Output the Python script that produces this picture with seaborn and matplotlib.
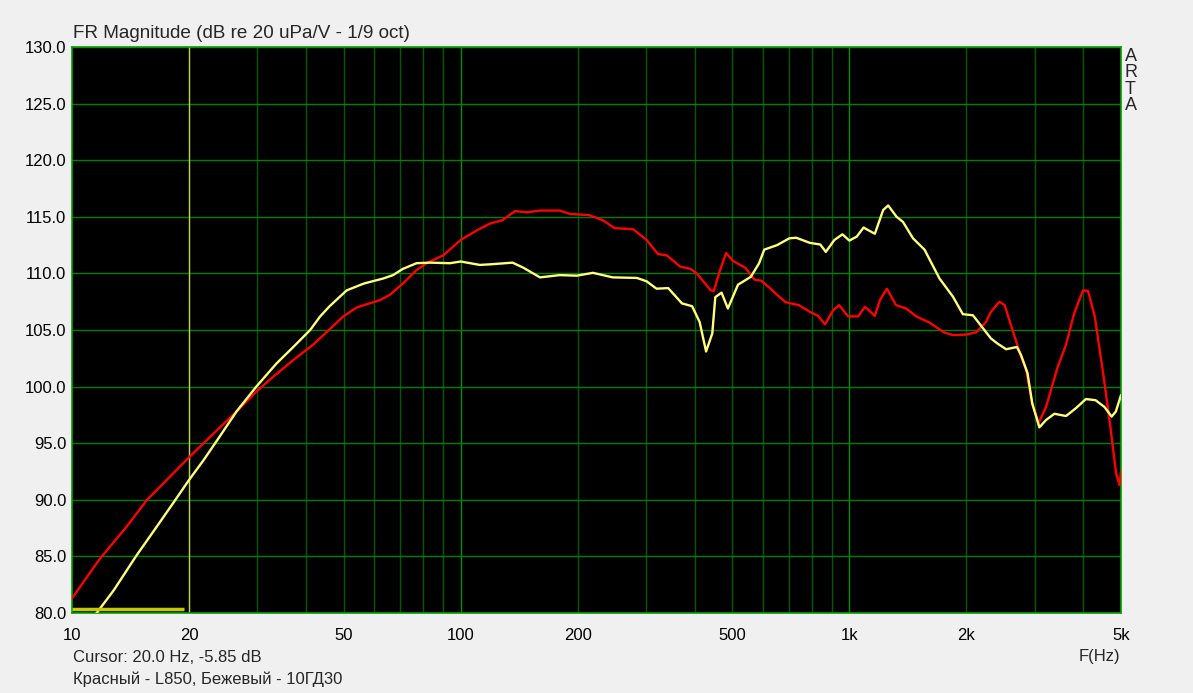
import numpy as np
import pandas as pd
import matplotlib
matplotlib.use("Agg")
import matplotlib.pyplot as plt
import seaborn as sns

# Red curve - L850
red_freq = [10, 11.8, 13.8, 15.6, 20, 21.8, 26.5, 29.8, 33, 37.1, 41.7, 45.3, 49.9, 54.1,
            62.1, 65.7, 71, 77, 81.7, 90.2, 100, 110, 119, 128, 138, 148, 160, 180, 191,
            214, 232, 249, 278, 301, 322, 339, 367, 390, 405, 440, 448, 465, 482, 502,
            540, 570, 594, 620, 652, 686, 741, 792, 831, 866, 909, 941, 993, 1053, 1097,
            1163, 1199, 1249, 1318, 1400, 1487, 1609, 1750, 1847, 2003, 2120, 2245, 2314,
            2432, 2510, 2620, 2733, 2850, 2956, 3070, 3207, 3437, 3610, 3790, 3993, 4113,
            4280, 4510, 4705, 4855, 4955, 5000]
red_db = [81.3, 84.8, 87.6, 90.0, 93.75, 95.0, 97.8, 99.55, 100.9, 102.35, 103.7, 104.85,
          106.2, 107.0, 107.65, 108.1, 109.1, 110.3, 110.9, 111.6, 112.95, 113.8, 114.4,
          114.7, 115.5, 115.4, 115.55, 115.55, 115.25, 115.15, 114.7, 114.0, 113.9, 112.95,
          111.7, 111.6, 110.6, 110.4, 110.0, 108.5, 108.45, 110.3, 111.8, 111.1, 110.5,
          109.45, 109.35, 108.8, 108.1, 107.45, 107.2, 106.6, 106.25, 105.5, 106.75, 107.2,
          106.2, 106.2, 107.05, 106.25, 107.65, 108.65, 107.2, 106.9, 106.2, 105.65, 104.8,
          104.55, 104.6, 104.8, 105.7, 106.6, 107.5, 107.2, 105.15, 103.2, 101.5, 98.5,
          96.8, 98.2, 101.75, 103.7, 106.5, 108.5, 108.45, 106.2, 100.9, 96.2, 92.35,
          91.3, 92.5]

# Beige curve - 10GD30
yel_freq = [11.4, 12.8, 14.6, 16.5, 18.2, 20, 21.8, 24, 26.5, 29.8, 33.6, 37.1, 41, 43.5,
            46, 50.9, 56.3, 63.2, 67, 71, 77, 83.3, 93.8, 100, 112, 119, 136, 145, 160,
            180, 199, 219, 246, 284, 301, 319, 342, 371, 394, 412, 428, 444, 452, 469,
            487, 517, 558, 586, 604, 652, 701, 730, 791, 842, 870, 915, 960, 1000, 1045,
            1088, 1163, 1222, 1259, 1323, 1374, 1458, 1561, 1706, 1847, 1959, 2080, 2185,
            2314, 2407, 2532, 2699, 2764, 2873, 2956, 3083, 3207, 3370, 3610, 3830, 4060,
            4300, 4534, 4730, 4850, 5000]
yel_db = [79.7, 82.0, 85.0, 87.6, 89.7, 91.75, 93.5, 95.6, 97.8, 100.0, 102.05, 103.5,
          105.0, 106.2, 107.1, 108.5, 109.1, 109.55, 109.85, 110.4, 110.9, 110.95, 110.9,
          111.05, 110.75, 110.8, 110.95, 110.5, 109.65, 109.85, 109.8, 110.05, 109.65,
          109.6, 109.3, 108.65, 108.7, 107.35, 107.1, 105.7, 103.1, 104.7, 107.9, 108.3,
          106.9, 109.0, 109.7, 110.9, 112.1, 112.5, 113.1, 113.15, 112.7, 112.55, 111.9,
          112.95, 113.45, 112.9, 113.25, 114.05, 113.5, 115.6, 116.0, 115.0, 114.55, 113.1,
          112.1, 109.55, 107.95, 106.4, 106.3, 105.35, 104.25, 103.8, 103.3, 103.5, 102.8,
          101.2, 98.5, 96.4, 97.05, 97.6, 97.4, 98.1, 98.9, 98.8, 98.2, 97.35, 97.8, 99.25]

x_ticks = [10, 20, 50, 100, 200, 500, 1000, 2000, 5000]
x_labels = ["10", "20", "50", "100", "200", "500", "1k", "2k", "5k"]
y_ticks = [80, 85, 90, 95, 100, 105, 110, 115, 120, 125, 130]
cursor_f = 20

df = pd.concat([
    pd.DataFrame({"freq": red_freq, "db": red_db, "curve": "L850"}),
    pd.DataFrame({"freq": yel_freq, "db": yel_db, "curve": "10GD30"}),
])

sns.set_style("dark")
plt.rcParams["font.family"] = ["Liberation Sans", "DejaVu Sans"]

fig = plt.figure(figsize=(11.93, 6.93), dpi=100, facecolor="#f0f0f0")
ax = fig.add_axes([72 / 1193, 80 / 693, 1049 / 1193, 566 / 693])
ax.set_facecolor("black")

# grid
minor = [f * m for m in (10, 100, 1000) for f in range(2, 10) if f * m < 5000]
for f in minor:
    ax.axvline(f, color="#005a00", lw=1, zorder=1)
for f in (100, 1000):
    ax.axvline(f, color="#009000", lw=1, zorder=1)
for y in y_ticks:
    ax.axhline(y, color="#008000", lw=1, zorder=1)
ax.axvline(cursor_f, color="#c8c860", lw=1, zorder=2)

sns.lineplot(data=df, x="freq", y="db", hue="curve", estimator=None, sort=True,
             palette={"L850": "#ff0000", "10GD30": "#ffff80"}, lw=1.7,
             legend=False, ax=ax, zorder=3)
ax.hlines(80.35, 10, 19.4, color="#c8c800", lw=2.5, zorder=4)

ax.set_xscale("log")
ax.set_xlim(10, 5000)
ax.set_ylim(80, 130)
ax.set_xticks(x_ticks)
ax.set_xticklabels(x_labels)
ax.minorticks_off()
ax.set_yticks(y_ticks)
ax.set_yticklabels([f"{v:.1f}" for v in y_ticks])
ax.tick_params(length=0, labelsize=12, colors="black")
ax.tick_params(axis="x", pad=11)
ax.tick_params(axis="y", pad=4)
ax.set_xlabel("")
ax.set_ylabel("")
ax.grid(False)
for s in ax.spines.values():
    s.set_visible(True)
    s.set_color("#00a000")
    s.set_linewidth(1.2)

fig.text(73 / 1193, 1 - 33 / 693, "FR Magnitude (dB re 20 uPa/V - 1/9 oct)",
         fontsize=13.6, va="center", ha="left")
fig.text(1125 / 1193, 1 - 48 / 693, "A\nR\nT\nA", fontsize=13, va="top", ha="left",
         linespacing=0.95)
fig.text(1120 / 1193, 1 - 656 / 693, "F(Hz)", fontsize=12, va="center", ha="right")
fig.text(73 / 1193, 1 - 657 / 693, "Cursor: 20.0 Hz, -5.85 dB", fontsize=12,
         va="center", ha="left")
fig.text(73 / 1193, 1 - 679 / 693, "Красный - L850, Бежевый - 10ГД30", fontsize=12,
         va="center", ha="left")

fig.savefig("out.png", dpi=100, facecolor=fig.get_facecolor())
